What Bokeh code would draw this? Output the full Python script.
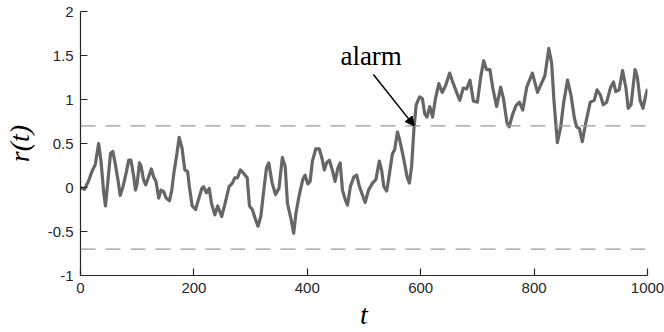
import numpy as np
from bokeh.plotting import figure
from bokeh.models import Range1d, FixedTicker, Arrow, NormalHead, Label, Span
from bokeh.embed import file_html
from bokeh.resources import INLINE

# ---- data ----
t = [0, 7, 14, 20, 26, 32, 36, 41, 44, 48, 53, 57, 61, 66, 70, 75, 81, 85, 89, 94,
     97, 100, 104, 107, 111, 115, 120, 125, 129, 133, 138, 142, 147, 151, 157, 161, 165, 170, 174, 179,
     184, 189, 192, 197, 203, 208, 214, 217, 222, 227, 231, 237, 242, 249, 255, 262, 268, 272, 277, 282,
     288, 294, 298, 303, 308, 313, 318, 324, 328, 332, 338, 344, 350, 356, 361, 365, 371, 376, 380, 386,
     392, 396, 401, 405, 409, 415, 421, 426, 430, 434, 439, 444, 449, 454, 458, 462, 467, 471, 476, 482,
     487, 492, 497, 502, 508, 515, 521, 527, 531, 535, 540, 544, 550, 554, 559, 563, 568, 572, 576, 580,
     584, 588, 592, 598, 603, 607, 611, 616, 621, 626, 632, 638, 644, 651, 657, 664, 669, 675, 681, 687,
     693, 700, 706, 711, 716, 722, 728, 734, 741, 746, 752, 756, 762, 768, 774, 780, 787, 797, 806, 812,
     819, 826, 831, 835, 841, 847, 852, 859, 865, 871, 875, 880, 885, 891, 899, 906, 911, 917, 922, 928,
     935, 940, 944, 950, 956, 962, 966, 971, 978, 982, 987, 992, 997, 1000]
r = [0.00, -0.02, 0.07, 0.18, 0.26, 0.50, 0.31, -0.06, -0.21, 0.05, 0.39, 0.41, 0.28, 0.09, -0.09, 0.01, 0.18, 0.31, 0.31, 0.12,
     -0.03, 0.05, 0.28, 0.24, 0.09, 0.03, 0.12, 0.21, 0.12, 0.07, -0.12, -0.03, -0.05, -0.12, -0.15, -0.03, 0.18, 0.38, 0.57, 0.45,
     0.20, 0.18, 0.01, -0.21, -0.25, -0.14, -0.01, 0.01, -0.06, -0.01, -0.18, -0.31, -0.21, -0.33, -0.18, 0.01, 0.05, 0.11, 0.11, 0.20,
     0.16, 0.11, -0.21, -0.25, -0.35, -0.44, -0.33, 0.01, 0.22, 0.28, 0.05, -0.08, -0.01, 0.34, 0.24, -0.18, -0.35, -0.52, -0.29, -0.08,
     0.09, 0.14, 0.04, 0.07, 0.30, 0.44, 0.44, 0.33, 0.20, 0.28, 0.31, 0.20, 0.07, 0.22, 0.28, -0.03, -0.14, -0.20, 0.01, 0.12,
     0.14, 0.01, -0.08, -0.17, -0.03, 0.05, 0.09, 0.30, 0.20, 0.01, -0.04, 0.12, 0.38, 0.43, 0.63, 0.54, 0.39, 0.26, 0.12, 0.05,
     0.24, 0.66, 0.94, 1.03, 1.01, 0.84, 0.80, 0.92, 0.80, 1.01, 1.18, 1.08, 1.16, 1.30, 1.19, 1.07, 0.99, 1.13, 1.12, 1.22,
     0.98, 0.97, 1.26, 1.44, 1.34, 1.34, 1.10, 0.92, 1.14, 1.01, 0.74, 0.69, 0.83, 0.93, 0.97, 0.88, 1.14, 1.30, 1.08, 1.17,
     1.27, 1.58, 1.41, 0.99, 0.51, 0.69, 0.96, 1.22, 1.05, 0.79, 0.69, 0.67, 0.52, 0.73, 0.97, 0.99, 1.11, 1.05, 0.94, 0.97,
     1.14, 1.20, 1.09, 1.11, 1.33, 1.13, 0.90, 0.94, 1.34, 1.26, 0.99, 0.90, 1.05, 1.12]

threshold = 0.7
x_ticks = [0, 200, 400, 600, 800, 1000]
x_tick_labels = ["0", "200", "400", "600", "800", "1000"]
y_ticks = [-1, -0.5, 0, 0.5, 1, 1.5, 2]
y_tick_labels = ["-1", "-0.5", "0", "0.5", "1", "1.5", "2"]
annotation_text = "alarm"

# first upward crossing of the threshold (interpolated)
ta = np.array(t, dtype=float)
ra = np.array(r, dtype=float)
i = int(np.argmax(ra >= threshold))
t_alarm = ta[i - 1] + (threshold - ra[i - 1]) * (ta[i] - ta[i - 1]) / (ra[i] - ra[i - 1])

AX = "#262626"
p = figure(width=664, height=332, output_backend="svg", toolbar_location=None,
           x_range=Range1d(0, 1000), y_range=Range1d(-1, 2),
           min_border_left=80, min_border_right=17, min_border_top=11, min_border_bottom=56)
p.background_fill_color = "white"
p.border_fill_color = "white"
p.outline_line_color = None
p.grid.visible = False

for ax in (p.xaxis[0], p.yaxis[0]):
    ax.axis_line_color = AX
    ax.axis_line_width = 1.2
    ax.major_tick_line_color = AX
    ax.major_tick_line_width = 1.2
    ax.major_tick_in = 7
    ax.major_tick_out = 0
    ax.minor_tick_line_color = None
    ax.major_label_text_color = AX
    ax.major_label_text_font = "Liberation Sans"
    ax.major_label_text_font_size = "15px"
    ax.major_label_standoff = 7
    ax.axis_label_text_font = "Liberation Serif"
    ax.axis_label_text_font_style = "italic"
    ax.axis_label_text_font_size = "28px"
    ax.axis_label_text_color = "black"

p.xaxis.ticker = FixedTicker(ticks=x_ticks)
p.xaxis.major_label_overrides = dict(zip(x_ticks, x_tick_labels))
p.yaxis.ticker = FixedTicker(ticks=y_ticks)
p.yaxis.major_label_overrides = dict(zip(y_ticks, y_tick_labels))
p.xaxis.axis_label = "t"
p.yaxis.axis_label = "r(t)"
p.xaxis.axis_label_standoff = 3
p.yaxis.axis_label_standoff = 10

for lvl in (threshold, -threshold):
    p.add_layout(Span(location=lvl, dimension="width", line_color="#9a9a9a",
                      line_width=1.3, line_dash="15 10"))

p.line(t, r, line_color="#666666", line_width=3.2, line_join="round")

p.add_layout(Arrow(end=NormalHead(size=9, fill_color="black", line_color="black"),
                   x_start=t_alarm - 72, y_start=threshold + 0.584,
                   x_end=t_alarm, y_end=threshold, line_color="black", line_width=1.5))
p.add_layout(Label(x=t_alarm - 76, y=threshold + 0.80, text=annotation_text,
                   text_align="center", text_baseline="alphabetic",
                   text_font="Liberation Serif", text_font_size="27px", text_color="black"))

open("out.html", "w").write(file_html(p, INLINE))
